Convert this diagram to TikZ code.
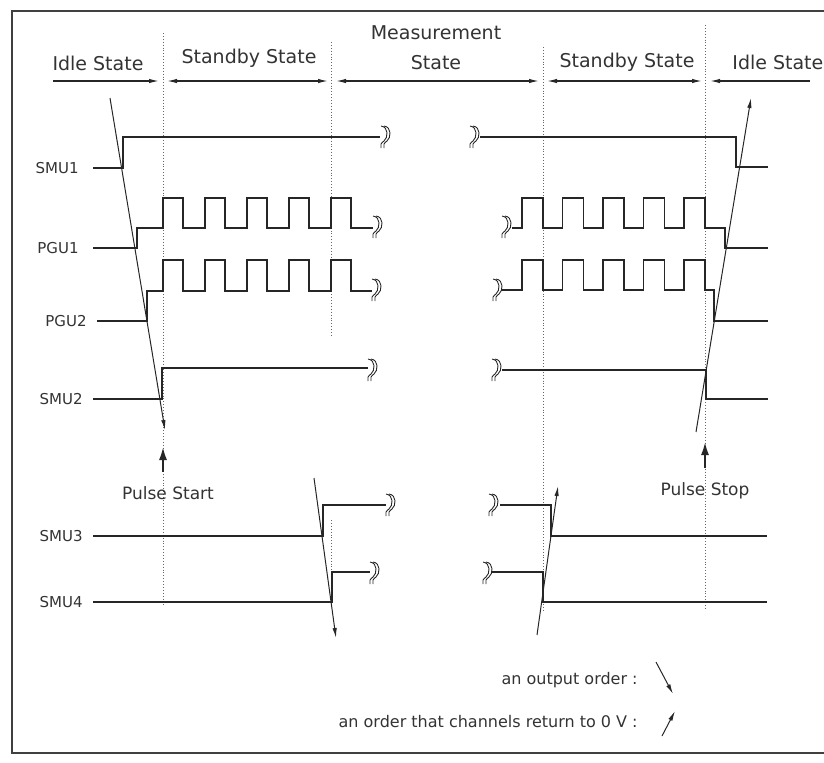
\documentclass[tikz,border=0pt]{standalone}
\usepackage{fontspec}
\setmainfont{DejaVu Sans}
\usetikzlibrary{arrows.meta,positioning}

% break mark on a cut signal line
\newcommand{\brkmark}[2]{%
  \foreach \d in {0,3} {
    \draw[sig, line width=0.45pt] (#1-3+\d,#2-11) .. controls (#1+5+\d,#2-10) and (#1+4+\d,#2+1) .. (#1+\d,#2+4)
      .. controls (#1-3+\d,#2+6) and (#1-4+\d,#2+8) .. (#1-3+\d,#2+11);
  }
}

\begin{document}
\begin{tikzpicture}[
  x=0.5pt, y=-0.5pt,
  >={Latex[length=5pt,width=2.2pt]},
  every node/.style={text=black!80, inner sep=0pt},
  sig/.style={line width=0.6pt, black!85},
  order/.style={->, line width=0.5pt, black!85},
  bound/.style={densely dotted, line width=0.45pt, black!60},
  hdr/.style={line width=0.6pt, black!85},
  state/.style={font=\fontsize{9.5}{15}\selectfont, align=center},
  lbl/.style={font=\fontsize{7.5}{9}\selectfont},
  pulse/.style={->, line width=1.3pt, black!85, >={Latex[length=7pt,width=4pt]}},
  note/.style={font=\fontsize{8}{10}\selectfont, anchor=east},
]
  \useasboundingbox (0,0) rectangle (824,762);
  \draw[line width=0.6pt, black!75] (824,11) -- (12,11) -- (12,753) -- (824,753);

  % state boundaries
  \coordinate (b0) at (53,81);
  \coordinate (b1) at (163,81);
  \coordinate (b2) at (332,81);
  \coordinate (b3) at (543,81);
  \coordinate (b4) at (706,81);
  \coordinate (b5) at (810,81);

  \draw[bound] (163,33) -- (163,605);
  \draw[bound] (331,42) -- (331,337);
  \draw[bound] (331,520) -- (331,590);
  \draw[bound] (543,47) -- (543,610);
  \draw[bound] (705,25) -- (705,610);

  \draw[hdr, ->, shorten >=2pt] (b0) -- (b1);
  \draw[hdr, <->, shorten <=2pt, shorten >=2pt] (b1) -- (b2);
  \draw[hdr, <->, shorten <=2pt, shorten >=2pt] (b2) -- (b3);
  \draw[hdr, <->, shorten <=2pt, shorten >=2pt] (b3) -- (b4);
  \draw[hdr, <-, shorten <=2pt] (b4) -- (b5);

  \node[state] (idle1) at (98,63) {Idle State};
  \node[state] (stby1) at (249,58) {Standby State};
  \node[state] (meas) at (436,48) {Measurement\\State};
  \node[state] (stby2) at (627,62) {Standby State};
  \node[state, anchor=west] (idle2) at (732,62) {Idle State};

  % channel labels
  \coordinate (s1) at (93,168);
  \coordinate (p1) at (93,248);
  \coordinate (p2) at (97,321);
  \coordinate (s2) at (93,399);
  \coordinate (s3) at (93,536);
  \coordinate (s4) at (93,602);
  \node[lbl, left=7pt of s1] (smu1) {SMU1};
  \node[lbl, left=7pt of p1] (pgu1) {PGU1};
  \node[lbl, left=5pt of p2] (pgu2) {PGU2};
  \node[lbl, left=5pt of s2] (smu2) {SMU2};
  \node[lbl, left=5pt of s3] (smu3) {SMU3};
  \node[lbl, left=5pt of s4] (smu4) {SMU4};

  % start side
  \draw[sig] (s1) -- (123,168) -- (123,137) -- (380,137);
  \brkmark{384}{137}
  \draw[sig] (p1) -- (137,248) -- (137,228)
    \foreach \t in {163,205,247,289,331} { -- (\t,228) -- (\t,198) -- (\t+20,198) -- (\t+20,228) }
    -- (373,228);
  \brkmark{376}{227}
  \draw[sig] (p2) -- (147,321) -- (147,291)
    \foreach \t in {163,205,247,289,331} { -- (\t,291) -- (\t,260) -- (\t+20,260) -- (\t+20,291) }
    -- (372,291);
  \brkmark{375}{290}
  \draw[sig] (s2) -- (162,399) -- (162,368) -- (368,368);
  \brkmark{371}{370}

  % stop side
  \brkmark{473}{137}
  \draw[sig] (480,137) -- (736,137) -- (736,167) -- (768,167);
  \brkmark{505}{227}
  \draw[sig] (512,228) -- (522,228)
    \foreach \t in {522,562.5,603,643.5,684} { -- (\t,228) -- (\t,198) -- (\t+21,198) -- (\t+21,228) }
    -- (725,228) -- (725,248) -- (768,248);
  \brkmark{496}{290}
  \draw[sig] (502,290) -- (522,290)
    \foreach \t in {522,562.5,603,643.5,684} { -- (\t,290) -- (\t,260) -- (\t+21,260) -- (\t+21,290) }
    -- (714,290) -- (714,321) -- (768,321);
  \brkmark{495}{370}
  \draw[sig] (502,370) -- (706,370) -- (706,399) -- (768,399);

  \draw[order] (110,98) -- (165,430);
  \draw[order] (696,432) -- (751,98);

  % pulse start / stop
  \draw[pulse] (163,472) -- (163,446);
  \draw[pulse] (705,468) -- (705,441);
  \node[font=\fontsize{8.5}{10}\selectfont] (pstart) at (168,493) {Pulse Start};
  \node[font=\fontsize{8.5}{10}\selectfont] (pstop) at (705,491) {Pulse Stop};

  % measurement channels
  \draw[sig] (s3) -- (323,536) -- (323,505) -- (386,505);
  \brkmark{389}{505}
  \brkmark{492}{505}
  \draw[sig] (500,505) -- (551,505) -- (551,536) -- (767,536);
  \draw[sig] (s4) -- (332,602) -- (332,572) -- (370,572);
  \brkmark{373}{573}
  \brkmark{486}{573}
  \draw[sig] (492,572) -- (543,572) -- (543,602) -- (767,602);

  \draw[order] (314,478) -- (336,638);
  \draw[order] (537,635) -- (558,486);

  % legend
  \node[note] (lg1) at (638,680) {an output order :};
  \node[note] (lg2) at (638,722) {an order that channels return to 0 V :};
  \draw[order] (656,662) -- (673,694);
  \draw[order] (662,736) -- (675,711);
\end{tikzpicture}
\end{document}
